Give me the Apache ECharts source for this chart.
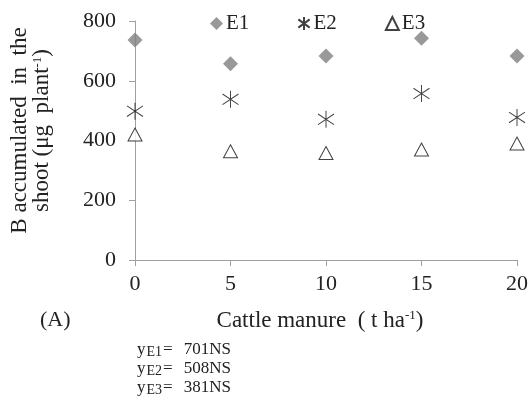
<!DOCTYPE html>
<html><head><meta charset="utf-8">
<script src="https://cdn.jsdelivr.net/npm/echarts@6/dist/echarts.min.js"></script>
<style>html,body{margin:0;padding:0;background:#fff}#c{width:528px;height:407px}</style>
</head><body><div id="c"></div>
<script>
var manure = [0, 5, 10, 15, 20];
var e1 = [736, 657, 683, 742, 683];
var e2 = [498, 538, 471, 557, 477];
var e3 = [420, 364, 358, 370, 390];
var xTicks = [0, 5, 10, 15, 20];
var yTicks = [0, 200, 400, 600, 800];
var equations = [['E1', '701NS'], ['E2', '508NS'], ['E3', '381NS']];

var F = 'Liberation Serif';
var star = 'path://M8,0L8,16M1,3L15,13M1,13L15,3';
function pts(arr){ return manure.map(function(x,i){return [x, arr[i]];}); }

var chart = echarts.init(document.getElementById('c'));
var eqGraphics = equations.map(function(e, i){
  return {type:'text', left:137, top:341 + i*19,
    style:{text:'{y|y}{s|' + e[0] + '}{q|=}{t|' + e[1] + '}', rich:{
      y:{fontFamily:F, fontSize:17, fill:'#222'},
      s:{fontFamily:F, fontSize:14, fill:'#222', verticalAlign:'bottom', padding:[5,1,0,1]},
      q:{fontFamily:F, fontSize:17, fill:'#222'},
      t:{fontFamily:F, fontSize:17, fill:'#222', padding:[0,0,0,11]}}}};
});
chart.setOption({
  animation:false,
  grid:{left:135, right:11, top:21, bottom:147, outerBoundsMode:'none', containLabel:false},
  legend:{left:205, top:8, itemWidth:13, itemHeight:13, itemGap:48,
    textStyle:{fontFamily:F, fontSize:21, color:'#222', padding:[0,0,0,-2]},
    data:['E1','E2','E3']},
  xAxis:{type:'value', min:0, max:20, interval:5,
    axisLine:{lineStyle:{color:'#a0a0a0'}}, axisTick:{show:true, length:6, lineStyle:{color:'#a0a0a0'}},
    splitLine:{show:false},
    axisLabel:{fontFamily:F, fontSize:22, color:'#222', margin:13,
      formatter:function(v){ return xTicks.indexOf(v) >= 0 ? String(v) : ''; }},
    name:'{a|Cattle manure  ( t ha}{b|-1}{a|)}', nameLocation:'middle', nameGap:49,
    nameTextStyle:{padding:[0,12,0,0], rich:{a:{fontFamily:F, fontSize:23, color:'#222'},
      b:{fontFamily:F, fontSize:13, color:'#222', verticalAlign:'top', padding:[0,0,10,0]}}}},
  yAxis:{type:'value', min:0, max:800, interval:200,
    axisLine:{show:true, lineStyle:{color:'#a0a0a0'}}, axisTick:{show:true, length:6, lineStyle:{color:'#a0a0a0'}},
    splitLine:{show:false},
    axisLabel:{fontFamily:F, fontSize:22, color:'#222', margin:19,
      formatter:function(v){ return yTicks.indexOf(v) >= 0 ? String(v) : ''; }},
    name:'{a|B accumulated  in  the}\n{a|shoot (μg  plant}{b|-1}{a|)}', nameLocation:'middle', nameGap:82, nameRotate:90,
    nameTextStyle:{lineHeight:22, padding:[0,0,0,20], rich:{a:{fontFamily:F, fontSize:23, color:'#222', lineHeight:22},
      b:{fontFamily:F, fontSize:13, color:'#222', verticalAlign:'top', padding:[0,0,10,0]}}}},
  graphic:[{type:'text', left:40, top:309, style:{text:'(A)', fontFamily:F, fontSize:22, fill:'#222'}}].concat(eqGraphics),
  series:[
    {name:'E1', type:'scatter', data:pts(e1), symbol:'diamond', symbolSize:15,
      itemStyle:{color:'#808080'}},
    {name:'E2', type:'scatter', data:pts(e2), symbol:star, symbolSize:[16,17],
      itemStyle:{color:'rgba(0,0,0,0)', borderColor:'#111', borderWidth:1}},
    {name:'E3', type:'scatter', data:pts(e3), symbol:'triangle', symbolSize:[14,13],
      itemStyle:{color:'#fff', borderColor:'#111', borderWidth:1}}
  ]
});
</script></body></html>
